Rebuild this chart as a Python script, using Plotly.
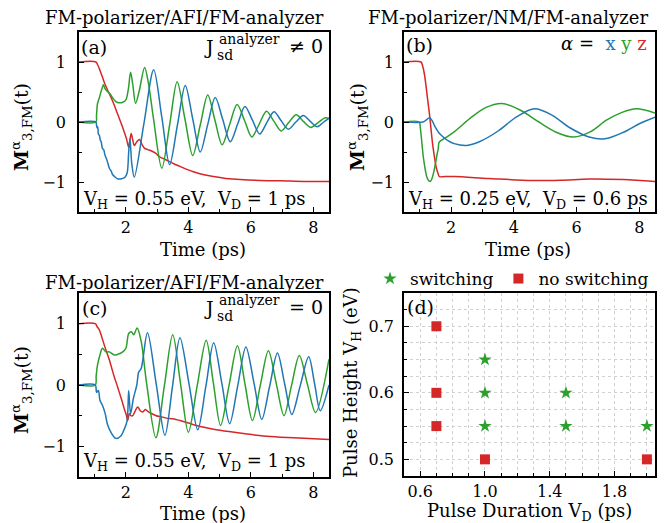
import plotly.graph_objects as go

W, H = 664, 523
FONT = "DejaVu Serif"
BLUE, GREEN, RED = "#1f77b4", "#2ca02c", "#d62728"

# ---------------- Panel (a): AFI, J_sd^analyzer != 0 ----------------
ta_x = [0.5, 1.04, 1.06, 1.08, 1.1, 1.12, 1.15, 1.18, 1.21, 1.25, 1.29, 1.33, 1.37, 1.42, 1.47, 1.53, 1.58,
        1.66, 1.74, 1.82, 1.9, 1.97, 2.04, 2.09, 2.13, 2.19, 2.27, 2.58, 2.89, 3.15, 3.4, 3.65, 3.9, 4.14,
        4.38, 4.62, 4.86, 5.1, 5.34, 5.58, 5.81, 6.05, 6.28, 6.51, 6.74, 6.97, 7.2, 7.44, 7.68, 7.9, 8.12,
        8.33, 8.5]
ma_x = [0.0, 0.0, -0.05, -0.1, -0.08, -0.2, -0.22, -0.3, -0.33, -0.44, -0.46, -0.55, -0.6, -0.68, -0.77,
        -0.82, -0.88, -0.92, -0.95, -0.95, -0.94, -0.92, -0.85, -0.5, -0.28, -0.7, -0.92, -0.02, 0.87, 0.08,
        -0.71, -0.05, 0.61, 0.05, -0.5, -0.04, 0.41, 0.04, -0.33, -0.03, 0.26, 0.03, -0.2, -0.01, 0.17, 0.02,
        -0.12, 0.0, 0.11, 0.01, -0.08, 0.0, 0.06]

ta_y = [0.5, 1.04, 1.06, 1.09, 1.12, 1.15, 1.2, 1.25, 1.28, 1.34, 1.41, 1.49, 1.58, 1.68, 1.79, 1.9, 2.0,
        2.08, 2.15, 2.22, 2.31, 2.42, 2.6, 2.72, 2.88, 3.15, 3.4, 3.64, 3.89, 4.14, 4.38, 4.62, 4.85, 5.08,
        5.32, 5.56, 5.8, 6.03, 6.27, 6.5, 6.74, 6.97, 7.21, 7.45, 7.68, 7.92, 8.15, 8.38, 8.5]
ma_y = [0.0, 0.0, 0.11, 0.3, 0.36, 0.4, 0.5, 0.58, 0.62, 0.55, 0.51, 0.47, 0.4, 0.34, 0.32, 0.33, 0.37,
        0.55, 0.83, 0.63, 0.31, 0.5, 0.91, 0.65, 0.07, -0.77, -0.05, 0.67, 0.05, -0.56, -0.05, 0.45, 0.03,
        -0.38, -0.04, 0.29, 0.02, -0.25, -0.03, 0.18, 0.01, -0.15, -0.01, 0.12, 0.01, -0.09, -0.01, 0.07, 0.06]

ta_z = [0.5, 1.04, 1.1, 1.15, 1.2, 1.25, 1.31, 1.4, 1.47, 1.55, 1.63, 1.7, 1.79, 1.87, 1.95, 2.02, 2.09,
        2.13, 2.17, 2.22, 2.27, 2.35, 2.44, 2.52, 2.6, 2.7, 2.81, 2.95, 3.08, 3.25, 3.4, 3.55, 3.73, 3.95,
        4.16, 4.5, 4.8, 5.2, 5.66, 6.3, 6.95, 7.7, 8.5]
ma_z = [1.0, 1.0, 0.95, 0.89, 0.82, 0.75, 0.66, 0.55, 0.47, 0.38, 0.28, 0.18, 0.06, -0.05, -0.17, -0.28,
        -0.42, -0.3, -0.19, -0.3, -0.39, -0.33, -0.29, -0.38, -0.44, -0.46, -0.48, -0.52, -0.58, -0.62,
        -0.66, -0.7, -0.74, -0.79, -0.83, -0.88, -0.91, -0.94, -0.96, -0.975, -0.98, -0.99, -0.99]

# ---------------- Panel (b): NM ----------------
tb_x = [0.5, 1.1, 1.2, 1.31, 1.4, 1.47, 1.55, 1.63, 1.75, 1.9, 2.1, 2.5, 2.9, 3.5, 4.1, 4.66, 5.2, 5.8,
        6.4, 6.9, 7.5, 8.0, 8.5]
mb_x = [0.0, 0.0, 0.03, 0.07, 0.02, -0.06, -0.13, -0.19, -0.25, -0.31, -0.36, -0.39, -0.33, -0.15, 0.09,
        0.22, 0.12, -0.1, -0.25, -0.28, -0.17, -0.03, 0.08]

tb_y = [0.5, 0.98, 1.02, 1.07, 1.12, 1.18, 1.23, 1.29, 1.34, 1.4, 1.45, 1.5, 1.55, 1.59, 1.61, 1.63, 1.8,
        2.11, 2.65, 3.1, 3.62, 4.2, 4.8, 5.35, 5.9, 6.45, 6.95, 7.45, 7.9, 8.5]
mb_y = [0.0, 0.0, -0.1, -0.35, -0.6, -0.8, -0.92, -0.98, -0.99, -0.93, -0.83, -0.7, -0.55, -0.45, -0.35,
        -0.33, -0.27, -0.16, 0.08, 0.24, 0.31, 0.2, 0.0, -0.17, -0.25, -0.16, 0.03, 0.16, 0.22, 0.15]

tb_z = [0.5, 1.04, 1.09, 1.15, 1.2, 1.25, 1.31, 1.36, 1.41, 1.47, 1.52, 1.58, 1.63, 1.8, 2.11, 3.19, 4.59,
        5.5, 6.41, 7.49, 8.5]
mb_z = [1.0, 1.0, 0.94, 0.8, 0.61, 0.39, 0.14, -0.11, -0.36, -0.58, -0.74, -0.85, -0.91, -0.91, -0.91,
        -0.94, -0.975, -0.97, -0.95, -0.96, -0.99]

# ---------------- Panel (c): AFI, J_sd^analyzer = 0 ----------------
tc_x = [0.5, 1.02, 1.06, 1.12, 1.17, 1.25, 1.34, 1.41, 1.52, 1.68, 1.84, 1.95, 2.04, 2.09, 2.15, 2.24,
        2.35, 2.41, 2.49, 2.69, 2.97, 3.25, 3.49, 3.73, 4.02, 4.3, 4.56, 4.81, 5.07, 5.32, 5.58, 5.84, 6.1,
        6.35, 6.6, 6.85, 7.08, 7.31, 7.58, 7.85, 8.04, 8.22, 8.5]
mc_x = [0.0, 0.0, -0.12, -0.09, -0.25, -0.33, -0.47, -0.64, -0.77, -0.87, -0.83, -0.72, -0.58, -0.09,
        -0.47, -0.22, 0.0, 0.21, 0.27, 0.85, 0.02, -0.82, -0.03, 0.77, 0.02, -0.73, -0.02, 0.69, 0.03, -0.63,
        -0.01, 0.62, 0.03, -0.56, -0.02, 0.52, 0.02, -0.48, -0.01, 0.46, 0.02, -0.42, 0.0]

tc_y = [0.5, 1.02, 1.05, 1.09, 1.17, 1.25, 1.36, 1.47, 1.63, 1.74, 1.9, 2.0, 2.09, 2.17, 2.25, 2.36,
        2.49, 2.66, 2.96, 3.23, 3.5, 3.75, 4.0, 4.28, 4.57, 4.8, 5.03, 5.3, 5.57, 5.81, 6.05, 6.3, 6.56,
        6.81, 7.06, 7.3, 7.55, 7.81, 8.07, 8.5]
mc_y = [0.0, 0.0, 0.15, 0.32, 0.49, 0.6, 0.54, 0.54, 0.49, 0.5, 0.54, 0.6, 0.84, 0.87, 0.82, 0.93,
        0.71, 0.04, -0.86, -0.02, 0.82, 0.02, -0.77, -0.02, 0.73, 0.03, -0.66, -0.01, 0.64, 0.02, -0.58,
        -0.01, 0.56, 0.03, -0.5, -0.01, 0.48, 0.01, -0.45, 0.42]

tc_z = [0.5, 1.02, 1.08, 1.15, 1.23, 1.31, 1.39, 1.47, 1.55, 1.63, 1.71, 1.79, 1.87, 1.95, 2.02, 2.06,
        2.11, 2.16, 2.22, 2.3, 2.38, 2.46, 2.54, 2.62, 2.7, 2.8, 2.97, 3.15, 3.3, 3.5, 3.73, 4.0, 4.26, 4.5,
        4.8, 5.3, 5.88, 6.4, 6.95, 7.7, 8.5]
mc_z = [1.0, 1.0, 0.95, 0.9, 0.78, 0.65, 0.53, 0.41, 0.27, 0.13, 0.01, -0.12, -0.25, -0.39, -0.5, -0.58,
        -0.47, -0.5, -0.5, -0.42, -0.36, -0.42, -0.44, -0.4, -0.43, -0.46, -0.5, -0.52, -0.54, -0.55, -0.58,
        -0.62, -0.66, -0.69, -0.72, -0.76, -0.8, -0.83, -0.85, -0.87, -0.89]

# ---------------- Panel (d): switching diagram ----------------
sw_VD = [1.0, 1.0, 1.5, 1.0, 1.5, 2.0]
sw_VH = [0.65, 0.6, 0.6, 0.55, 0.55, 0.55]
nosw_VD = [0.7, 0.7, 0.7, 1.0, 2.0]
nosw_VH = [0.7, 0.6, 0.55, 0.5, 0.5]


def PX(p):
    return p / W


def PY(p):
    return 1 - p / H


fig = go.Figure()

panels = [("x", "y", ta_x, ma_x, ta_y, ma_y, ta_z, ma_z),
          ("x2", "y2", tb_x, mb_x, tb_y, mb_y, tb_z, mb_z),
          ("x3", "y3", tc_x, mc_x, tc_y, mc_y, tc_z, mc_z)]
for xa, ya, t1, m1, t2, m2, t3, m3 in panels:
    for t, m, c in ((t3, m3, RED), (t2, m2, GREEN), (t1, m1, BLUE)):
        fig.add_trace(go.Scatter(x=t, y=m, mode="lines", xaxis=xa, yaxis=ya, showlegend=False,
                                 line=dict(color=c, width=1.5, shape="spline", smoothing=0.9),
                                 hoverinfo="skip"))

fig.add_trace(go.Scatter(x=sw_VD, y=sw_VH, mode="markers", name="switching", xaxis="x4", yaxis="y4",
                         marker=dict(symbol="star", size=10, color=GREEN, line=dict(width=0))))
fig.add_trace(go.Scatter(x=nosw_VD, y=nosw_VH, mode="markers", name="no switching", xaxis="x4",
                         yaxis="y4", marker=dict(symbol="square", size=10, color=RED, line=dict(width=0))))

base = dict(showline=True, linecolor="black", linewidth=1.5, mirror=True, ticks="inside", ticklen=5,
            tickwidth=1, tickcolor="black", showgrid=False, zeroline=False,
            tickfont=dict(family=FONT, size=16, color="black"))

time_x = dict(base, range=[0.5, 8.5], tickvals=[2, 4, 6, 8], ticklabelstandoff=0,
              minor=dict(tickvals=[1, 3, 5, 7], ticks="inside", ticklen=3, tickcolor="black"))
mag_y = dict(base, range=[-1.5, 1.5], tickvals=[-1, 0, 1], ticktext=["\u22121", "0", "1"],
             ticklabelstandoff=8,
             minor=dict(tickvals=[-0.5, 0.5], ticks="inside", ticklen=3, tickcolor="black"))

top = [PY(212), PY(32)]
bot3 = [PY(477), PY(293)]
bot4 = [PY(476), PY(293)]
left = [PX(79), PX(329)]
right = [PX(404), PX(655)]

fig.update_layout(
    xaxis=dict(time_x, domain=left, anchor="y"),
    yaxis=dict(mag_y, domain=top, anchor="x"),
    xaxis2=dict(time_x, domain=right, anchor="y2"),
    yaxis2=dict(mag_y, domain=top, anchor="x2", ticklabelstandoff=5),
    xaxis3=dict(time_x, domain=left, anchor="y3"),
    yaxis3=dict(mag_y, domain=bot3, anchor="x3"),
    xaxis4=dict(base, domain=right, anchor="y4", range=[0.5, 2.05], tick0=0.6, dtick=0.4,
                tickformat=".1f", ticklabelstandoff=0, showgrid=True, gridcolor="#d0d0d0",
                griddash="dot", gridwidth=1,
                minor=dict(dtick=0.1, tick0=0.5, ticks="inside", ticklen=3, tickcolor="black",
                           showgrid=True, gridcolor="#d0d0d0", griddash="dot", gridwidth=1)),
    yaxis4=dict(base, domain=bot4, anchor="x4", range=[0.475, 0.75], tick0=0.5, dtick=0.1,
                tickformat=".1f", ticklabelstandoff=5, showgrid=True, gridcolor="#d0d0d0",
                griddash="dot", gridwidth=1,
                minor=dict(dtick=0.025, tick0=0.5, ticks="inside", ticklen=3, tickcolor="black",
                           showgrid=True, gridcolor="#d0d0d0", griddash="dot", gridwidth=1)),
    width=W, height=H, margin=dict(l=0, r=0, t=0, b=0),
    paper_bgcolor="white", plot_bgcolor="white",
    font=dict(family=FONT, color="black"),
    showlegend=True,
    legend=dict(orientation="h", x=PX(370), y=PY(261), xanchor="left", yanchor="top",
                font=dict(family=FONT, size=17, color="black"), bgcolor="rgba(0,0,0,0)",
                tracegroupgap=0),
)

ann = []


def A(text, x, y, size, xanchor="center", yanchor="middle", angle=0, color="black"):
    ann.append(dict(text=text, x=PX(x), y=PY(y), xref="paper", yref="paper", showarrow=False,
                    xanchor=xanchor, yanchor=yanchor, textangle=angle,
                    font=dict(family=FONT, size=size, color=color)))


# titles
A("FM-polarizer/AFI/FM-analyzer", 326, 17, 18, xanchor="right")
A("FM-polarizer/NM/FM-analyzer", 650, 17, 18, xanchor="right")
A("FM-polarizer/AFI/FM-analyzer", 326, 282, 18, xanchor="right")
# panel labels
A("(a)", 94, 47, 19)
A("(b)", 419, 45, 19)
A("(c)", 94, 308, 19)
A("(d)", 420, 307, 19)
# J_sd^analyzer
for yc, rel in ((47, "\u2260 0"), (308, "= 0")):
    A("J", 209, yc, 19)
    A("analyzer", 249, yc - 8, 14)
    A("sd", 225, yc + 8, 14)
    A(rel, 306, yc - 1, 19)
# alpha legend
A("<i>\u03b1</i> = &nbsp;<span style='color:%s'>x</span> <span style='color:%s'>y</span> "
  "<span style='color:%s'>z</span>" % (BLUE, GREEN, RED), 649, 43, 18, xanchor="right")
# pulse parameters
A("V<sub>H</sub> = 0.55 eV, &nbsp;V<sub>D</sub> = 1 ps", 81, 200, 18, xanchor="left")
A("V<sub>H</sub> = 0.25 eV, &nbsp;V<sub>D</sub> = 0.6 ps", 406, 200, 18, xanchor="left")
A("V<sub>H</sub> = 0.55 eV, &nbsp;V<sub>D</sub> = 1 ps", 81, 462, 18, xanchor="left")
# x titles
A("Time (ps)", 203, 249, 18)
A("Time (ps)", 528, 249, 18)
A("Time (ps)", 203, 513, 18)
A("Pulse Duration V<sub>D</sub> (ps)", 529, 512, 18)
# y titles
for xc, yc in ((21, 127), (357, 127), (21, 390)):
    A("<b>M</b><sup>\u03b1</sup><sub>3,FM</sub>(t)", xc, yc, 19, angle=-90)
A("Pulse Height V<sub>H</sub> (eV)", 352, 383, 18, angle=-90)

fig.update_layout(annotations=ann)
fig.write_html("out.html", post_script="document.body.style.margin='0';",
               config={"displayModeBar": False})
